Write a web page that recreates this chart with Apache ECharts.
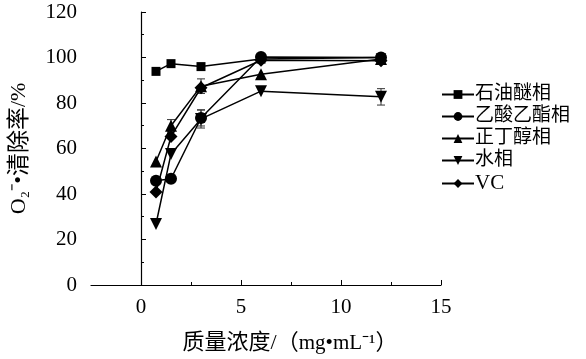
<!DOCTYPE html>
<html><head><meta charset="utf-8">
<script src="https://cdn.jsdelivr.net/npm/echarts@6/dist/echarts.min.js"></script>
<style>html,body{margin:0;padding:0;background:#fff}#c{width:586px;height:359px}</style>
</head><body><div id="c"></div>
<script>
const concentrations = [0.75, 1.5, 3, 6, 12];
const seriesNames = ['石油醚相', '乙酸乙酯相', '正丁醇相', '水相', 'VC'];
const petroleumEther = [93.9, 97.3, 96.0, 99.3, 100];
const ethylAcetate = [45.8, 46.7, 73.4, 100.2, 100];
const nButanol = [54.3, 70.0, 87.4, 92.6, 99.3];
const waterPhase = [26.8, 57.6, 73.0, 85.2, 82.7];
const vitaminC = [40.9, 65.3, 86.7, 98.8, 98.6];
const errPetroleumEther = [0, 0, 0, 0, 0];
const errEthylAcetate = [0, 0, 3.5, 0, 0];
const errNButanol = [0, 2.7, 3.2, 0, 0];
const errWater = [0, 0, 4, 0, 3.6];
const errVC = [0, 0, 0, 0, 0];
const xTickLabels = [0, 5, 10, 15];
const xMinorTicks = [2.5, 7.5, 12.5];

const values = [petroleumEther, ethylAcetate, nButanol, waterPhase, vitaminC];
const errors = [errPetroleumEther, errEthylAcetate, errNButanol, errWater, errVC];
const symbols = ['rect', 'circle', 'triangle', 'path://M0,0 L10,0 L5,10 Z', 'diamond'];
const sizes = [9, 12, 12, 12, 13];
const FONT = '"Liberation Serif", "Noto Sans CJK SC", serif';

const chart = echarts.init(document.getElementById('c'));
const series = [];
values.forEach((vals, i) => {
  series.push({
    name: seriesNames[i], type: 'line', symbol: symbols[i], symbolSize: sizes[i],
    data: concentrations.map((x, j) => [x, vals[j]]),
    lineStyle: {color: '#000', width: 1.5}, itemStyle: {color: '#000'},
    z: 3, animation: false
  });
  series.push({
    type: 'custom', silent: true, animation: false, z: 2,
    data: concentrations.map((x, j) => [x, vals[j], errors[i][j]]).filter(d => d[2] > 0),
    renderItem: (params, api) => {
      const x = api.value(0), y = api.value(1), e = api.value(2);
      const top = api.coord([x, y + e]), bot = api.coord([x, y - e]);
      const w = 4;
      const st = {stroke: '#333', lineWidth: 1};
      return {type: 'group', children: [
        {type: 'line', shape: {x1: top[0], y1: top[1], x2: bot[0], y2: bot[1]}, style: st},
        {type: 'line', shape: {x1: top[0]-w, y1: top[1], x2: top[0]+w, y2: top[1]}, style: st},
        {type: 'line', shape: {x1: bot[0]-w, y1: bot[1], x2: bot[0]+w, y2: bot[1]}, style: st}
      ]};
    }
  });
});

chart.setOption({
  backgroundColor: '#fff',
  textStyle: {fontFamily: FONT},
  grid: {left: 88, right: 145, top: 12, bottom: 72, containLabel: false},
  legend: {
    orient: 'vertical', left: 436, top: 80, itemWidth: 32, itemHeight: 11, itemGap: 3,
    data: seriesNames,
    formatter: n => n === 'VC' ? '{l|VC}' : '{c|' + n + '}',
    textStyle: {fontFamily: FONT, fontSize: 19, color: '#000', padding: [0, 0, 0, -4],
      rich: {
        c: {fontFamily: FONT, fontSize: 19, lineHeight: 19, color: '#000'},
        l: {fontFamily: FONT, fontSize: 21, lineHeight: 19, color: '#000'}
      }}
  },
  xAxis: [{
    type: 'value', min: -2.5, max: 15, interval: 2.5,
    name: '{c|质量浓度/（}{l|mg•mL⁻¹}{c|）}', nameLocation: 'middle', nameGap: 47,
    nameTextStyle: {fontFamily: FONT, fontSize: 21, color: '#000', padding: [0, 0, 0, 48],
      rich: {
        c: {fontFamily: FONT, fontSize: 22, color: '#000'},
        l: {fontFamily: FONT, fontSize: 21, color: '#000'}
      }},
    axisLine: {lineStyle: {color: '#000', width: 1.2}},
    axisTick: {show: true, inside: true, length: 5, customValues: xTickLabels, lineStyle: {color: '#000'}},
    axisLabel: {customValues: xTickLabels, fontFamily: FONT, fontSize: 21, color: '#000', margin: 12},
    splitLine: {show: false}
  }, {
    type: 'value', min: -2.5, max: 15, position: 'bottom',
    axisLine: {show: false},
    axisTick: {show: true, inside: true, length: 3, customValues: xMinorTicks, lineStyle: {color: '#000'}},
    axisLabel: {show: false}, splitLine: {show: false}
  }],
  yAxis: {
    type: 'value', min: 0, max: 120, interval: 20,
    name: '{l|O₂⁻•}{c|清除率}{l|/%}', nameLocation: 'middle', nameGap: 60, nameRotate: 90,
    nameTextStyle: {fontFamily: FONT, fontSize: 22, color: '#000',
      rich: {
        c: {fontFamily: FONT, fontSize: 23, color: '#000'},
        l: {fontFamily: FONT, fontSize: 22, color: '#000'}
      }},
    axisLine: {show: true, lineStyle: {color: '#000', width: 1.2}},
    axisTick: {show: true, inside: true, length: 5, lineStyle: {color: '#000'}},
    minorTick: {show: true, splitNumber: 2, length: 3, lineStyle: {color: '#000'}},
    axisLabel: {fontFamily: FONT, fontSize: 21, color: '#000', margin: 14},
    splitLine: {show: false}
  },
  series: series
});
</script></body></html>
